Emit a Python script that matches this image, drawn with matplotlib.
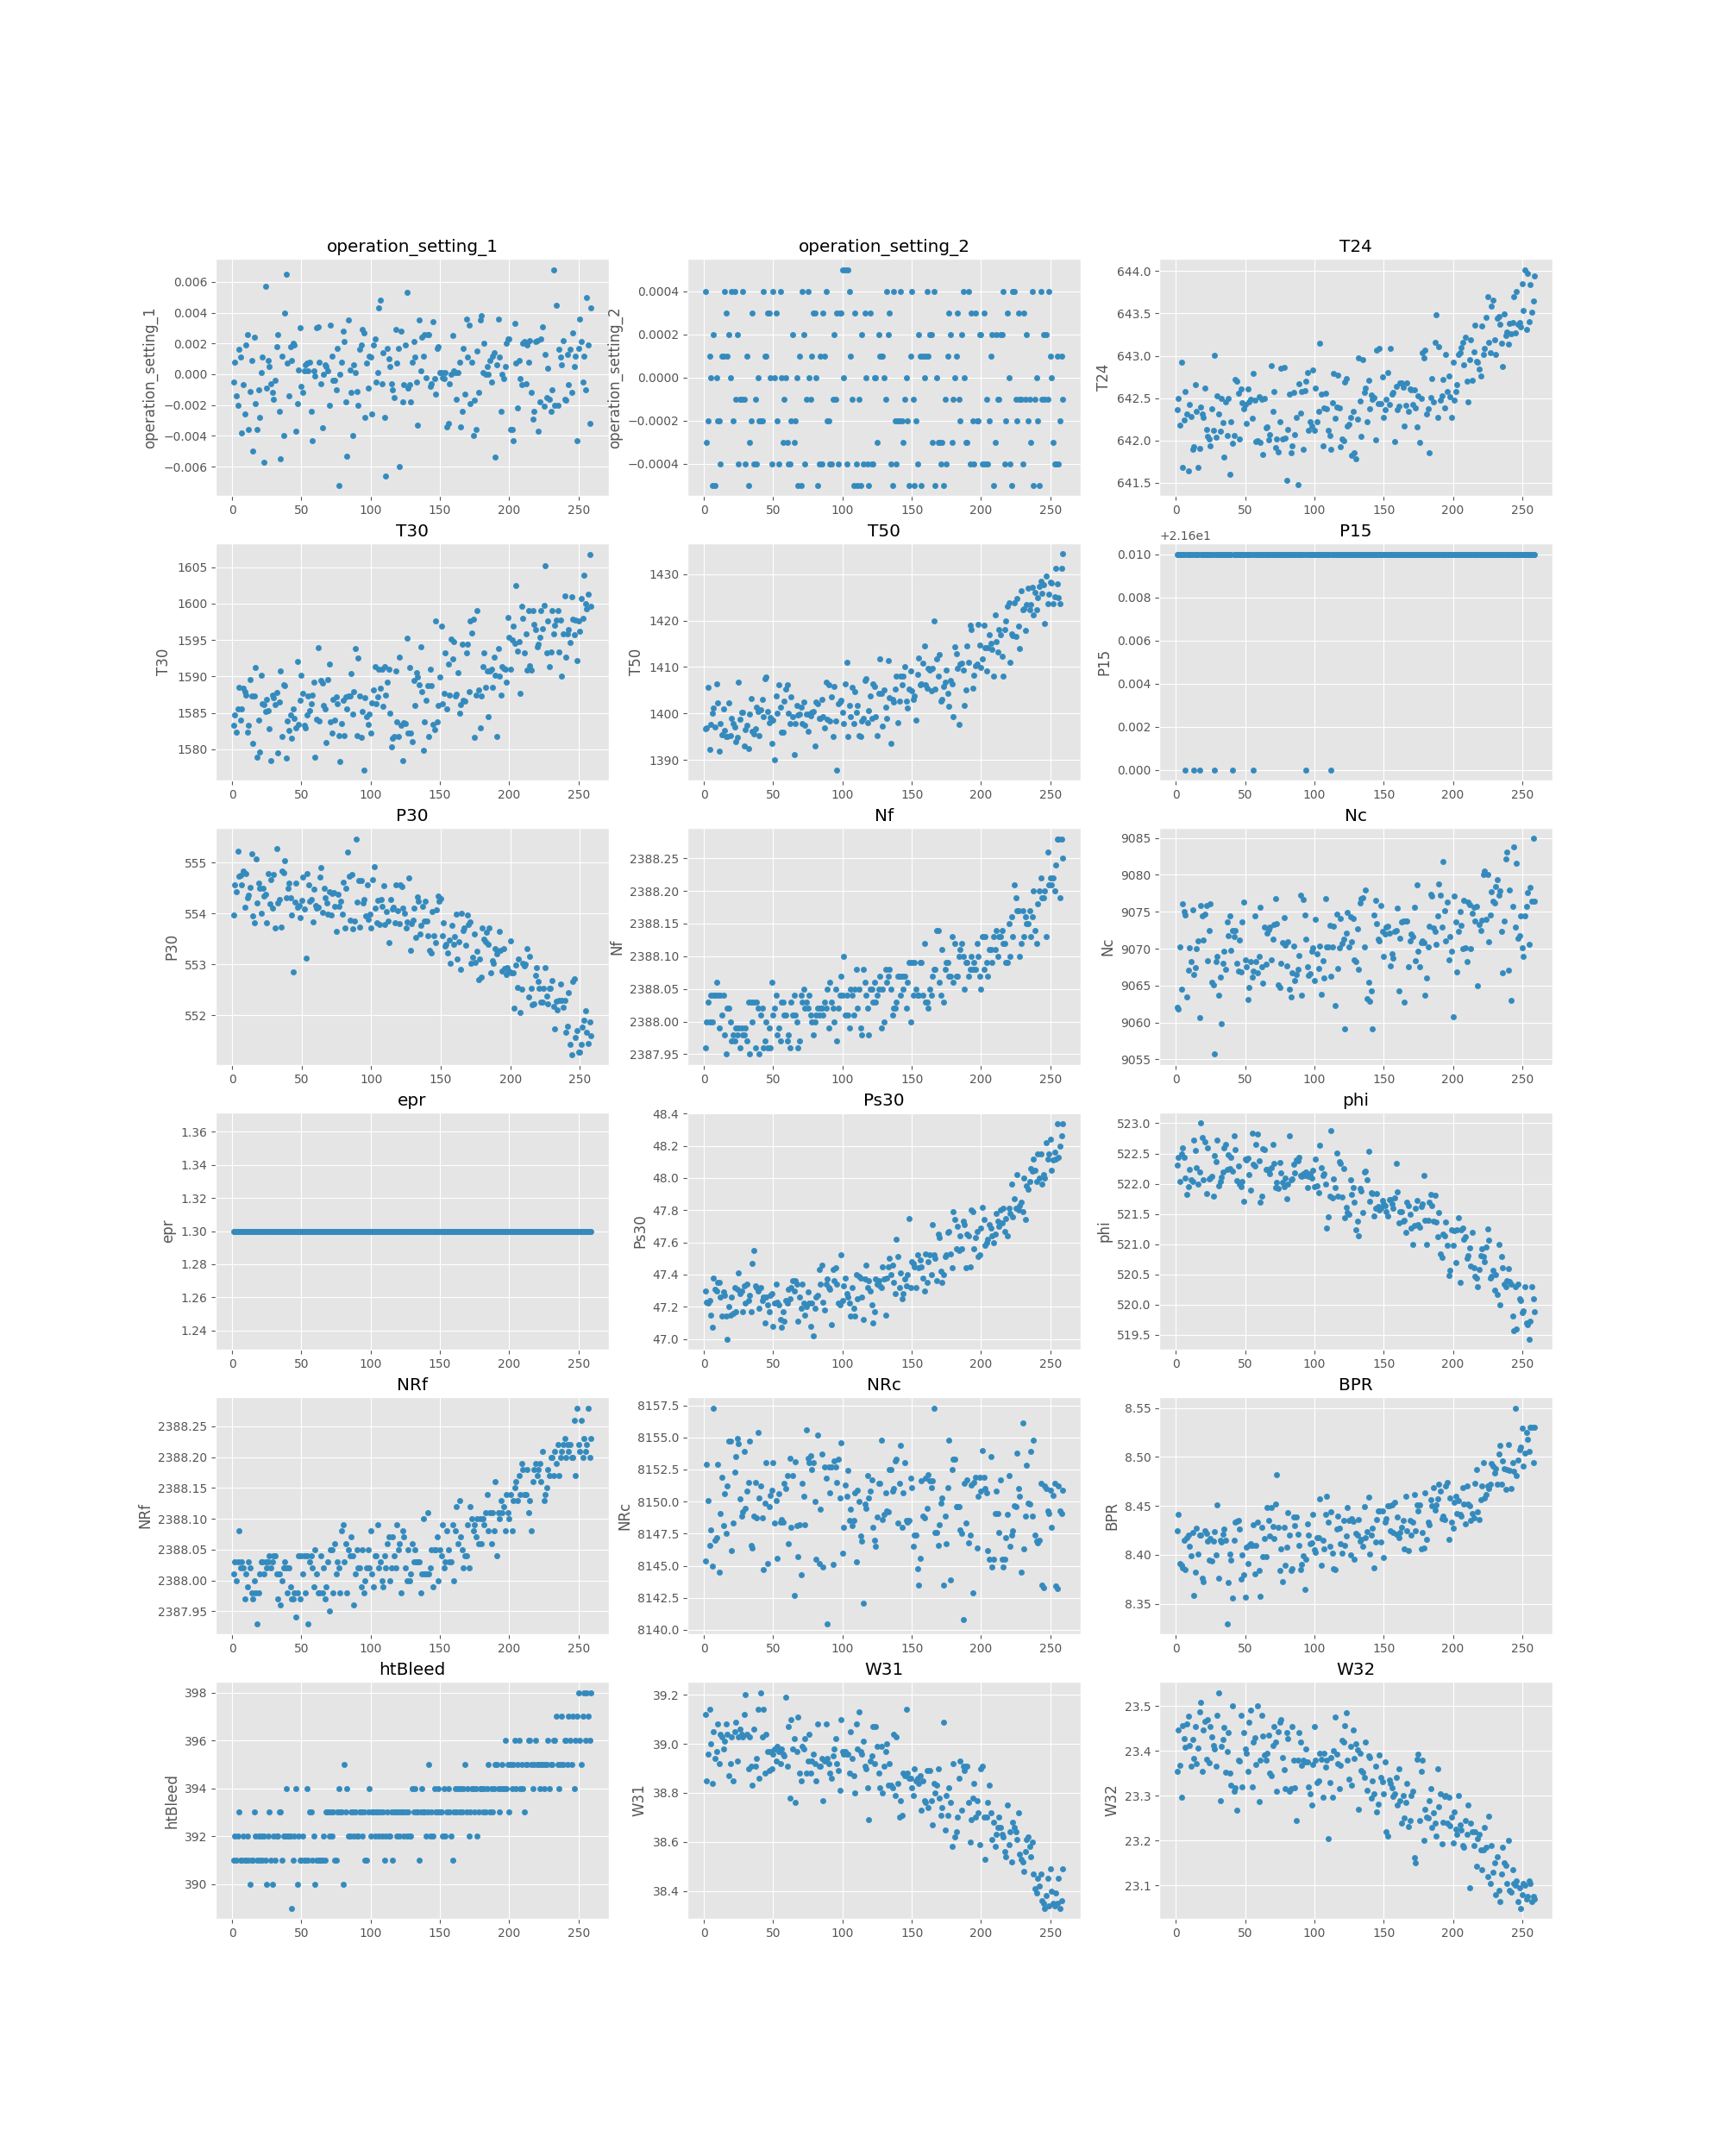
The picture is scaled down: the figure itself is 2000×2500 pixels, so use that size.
import matplotlib.pyplot as plt
import numpy as np

plt.style.use('ggplot')

# operation settings, read in units of 1e-4
op_setting_1_e4 = [
    -5, 8, -14, -20, 16, 11, -38, -7, -26, 19,
    26, -36, -11, 9, -50, 24, -19, -36, -10, -28,
    1, 11, -57, 57, -9, 9, 5, -6, -12, -16,
    -4, 18, 26, -24, -55, 12, -40, 40, 65, 7,
    -14, 18, 9, 20, 19, -37, -19, 3, 30, -8,
    -12, 2, 6, 7, 2, 8, -24, -43, 2, -1,
    30, 31, 8, -6, -35, 0, 6, 5, 2, -20,
    32, 12, -4, -4, -10, 17, -72, 0, 8, 28,
    21, -18, -53, 35, 3, -12, -40, 6, 1, -11,
    -20, 16, 19, 29, 27, -28, 7, -9, 12, 11,
    -26, 19, 23, -5, 1, 43, 48, -6, 14, -28,
    -66, 17, 10, 5, -6, -10, -15, 29, 7, 17,
    -60, 28, -18, -7, 19, 53, -9, -7, -18, 8,
    21, 11, -5, -33, 35, 2, 24, 12, 26, -2,
    26, 26, -8, -6, 34, -3, -13, 17, 18, 1,
    1, -2, -3, 1, -34, -32, -6, 0, 25, 2,
    1, -16, 1, 8, -34, -24, 17, -13, 36, 11,
    32, -19, 8, -40, -17, -36, 15, -12, 35, 38,
    1, 20, 0, 5, 0, 9, -5, 12, 14, -54,
    6, 36, 11, -24, 0, -3, 5, 20, 23, 23,
    -36, -36, -43, 33, 7, -22, 9, -3, -7, 20,
    21, -6, 19, 8, 22, -12, -29, -24, 21, 22,
    -37, -18, 23, 31, -21, 13, -15, 4, -16, -24,
    -10, 68, -20, 45, -20, 16, 11, 6, 22, -16,
    -17, 13, -7, 16, -12, 27, 5, 12, -43, 17,
    36, 21, -5, 12, -10, 50, 19, -32, 43]

op_setting_2_e4 = [
    4, -3, -2, 1, 0, -5, 2, -5, 0, -2,
    -2, -4, 1, 1, 4, 3, 1, 2, 0, 4,
    -2, 4, -1, 2, -4, -1, -1, 4, -1, -4,
    1, -5, -3, -2, 3, -4, -1, -4, 0, -2,
    -2, -2, 4, 1, 1, 3, 3, 0, -4, 4,
    0, 3, -2, -4, 4, 0, -3, -1, 0, -3,
    -4, -4, -2, 2, -3, -2, 0, -5, 1, -5,
    4, 2, -4, -1, 4, 0, -1, 1, 3, 3,
    0, -5, -4, 1, -4, 3, 1, 4, -2, -2,
    -4, -4, -1, 2, -1, 3, -4, 3, 3, 5,
    0, 5, -4, 5, 4, 1, -1, -5, 3, -4,
    -5, -1, -5, 2, -4, 3, 0, -4, -5, 3,
    -4, -4, 0, 0, -3, 2, 1, 1, 1, 0,
    -1, 4, 2, 3, -4, -5, 4, -2, -4, -2,
    -2, 4, -2, -3, -1, 0, -2, -5, 1, 4,
    -1, -5, -2, -4, 2, 1, -5, 1, 0, 1,
    4, 1, 2, 2, -3, 4, -5, 0, -3, -3,
    -4, -3, -5, -1, -4, 1, 3, 2, -3, -1,
    0, 1, 3, -1, -2, 2, 4, 0, -3, -3,
    4, -4, 3, -2, -4, 3, -2, -2, 2, 2,
    -4, 3, -4, -1, -4, -2, 1, 2, -5, -3,
    2, -1, -1, 2, 2, 4, -4, -2, 3, 0,
    -4, -5, 4, 4, -1, -2, 3, -1, -1, -4,
    3, -1, 2, -2, -1, -3, 4, -5, -1, 0,
    -2, -5, 4, -1, 2, -1, 2, -1, 4, 1,
    0, -3, -4, -4, 1, -4, -2, 1, -1]

t24 = [
    642.36, 642.50, 642.18, 642.92, 641.68, 642.24, 642.58, 642.31, 641.64, 642.42,
    642.28, 641.89, 641.92, 642.66, 642.34, 641.68, 641.90, 642.39, 642.31, 642.27,
    642.62, 642.13, 642.05, 642.02, 641.93, 642.37, 642.12, 643.01, 642.04, 642.53,
    642.31, 642.11, 642.50, 642.21, 641.80, 642.45, 642.06, 642.49, 641.60, 642.22,
    641.96, 642.06, 642.72, 642.70, 642.56, 642.02, 642.61, 642.44, 642.37, 642.42,
    642.20, 642.61, 642.45, 642.48, 642.26, 642.79, 642.47, 641.98, 642.00, 642.52,
    641.97, 642.48, 641.83, 642.49, 642.15, 642.16, 642.01, 642.07, 642.88, 642.34,
    642.58, 641.91, 642.02, 641.86, 642.22, 642.85, 642.02, 642.86, 642.03, 641.53,
    642.13, 642.55, 641.85, 641.93, 642.57, 642.07, 642.27, 641.47, 642.67, 642.32,
    642.58, 641.89, 642.59, 642.70, 642.80, 642.12, 642.22, 642.17, 642.83, 642.12,
    642.62, 642.22, 642.34, 643.15, 642.55, 641.93, 642.38, 642.56, 642.37, 642.12,
    642.06, 641.89, 642.44, 642.79, 642.26, 642.39, 642.77, 642.38, 641.92, 642.02,
    642.00, 642.69, 642.73, 642.17, 642.19, 642.27, 641.82, 642.34, 641.85, 641.78,
    642.25, 642.97, 642.46, 642.05, 642.95, 642.57, 642.62, 642.22, 642.71, 642.37,
    642.54, 642.48, 642.51, 642.01, 643.07, 642.43, 643.09, 642.43, 642.75, 642.27,
    642.36, 642.48, 642.80, 642.42, 643.09, 642.55, 642.57, 641.98, 642.64, 642.36,
    642.40, 642.68, 642.68, 642.63, 642.17, 642.41, 642.68, 642.34, 642.61, 642.60,
    642.42, 642.60, 642.38, 642.16, 642.53, 641.97, 642.49, 643.04, 642.97, 643.07,
    642.31, 642.37, 641.85, 642.51, 642.73, 642.45, 643.16, 643.48, 642.27, 643.11,
    642.47, 642.53, 642.72, 642.38, 643.02, 642.58, 642.76, 642.52, 642.27, 642.92,
    642.47, 642.58, 642.66, 643.02, 643.04, 643.10, 643.16, 642.89, 643.22, 642.70,
    642.45, 642.95, 643.19, 642.71, 643.05, 643.36, 642.93, 642.92, 642.84, 642.76,
    643.35, 643.02, 643.09, 643.45, 643.70, 643.16, 643.04, 643.59, 643.66, 643.19,
    643.02, 643.44, 643.46, 643.37, 643.15, 642.87, 643.49, 643.24, 643.28, 643.14,
    643.38, 643.26, 643.39, 643.70, 643.27, 643.76, 643.37, 643.39, 643.34, 643.85,
    643.54, 644.02, 643.31, 643.97, 643.40, 643.84, 643.52, 643.65, 643.94]

t30 = [
    1583.3, 1584.7, 1582.3, 1585.6, 1588.5, 1584.0, 1585.6, 1588.4, 1587.9, 1587.5,
    1582.3, 1583.3, 1589.6, 1587.3, 1580.8, 1587.3, 1591.2, 1578.9, 1584.0, 1579.6,
    1590.2, 1586.2, 1586.1, 1585.2, 1586.8, 1585.3, 1582.8, 1578.4, 1587.5, 1587.1,
    1586.1, 1587.8, 1579.5, 1586.5, 1590.7, 1581.8, 1588.9, 1588.7, 1578.8, 1583.9,
    1582.6, 1584.7, 1581.5, 1585.5, 1584.2, 1582.9, 1592.1, 1583.4, 1586.7, 1590.2,
    1587.7, 1583.3, 1583.0, 1584.7, 1587.3, 1585.3, 1586.2, 1587.5, 1589.2, 1578.9,
    1584.1, 1593.9, 1583.9, 1589.4, 1589.1, 1586.0, 1585.6, 1580.9, 1589.6, 1591.7,
    1583.8, 1582.2, 1586.8, 1584.0, 1587.2, 1586.2, 1581.9, 1578.3, 1583.5, 1586.7,
    1581.9, 1587.2, 1585.5, 1587.3, 1587.3, 1590.4, 1584.8, 1587.9, 1593.8, 1581.9,
    1592.5, 1587.3, 1581.6, 1585.2, 1577.2, 1587.1, 1584.5, 1583.4, 1584.8, 1582.2,
    1586.4, 1588.2, 1591.4, 1586.3, 1587.2, 1591.0, 1588.4, 1591.0, 1585.9, 1591.4,
    1587.4, 1589.2, 1591.0, 1585.0, 1580.3, 1581.5, 1581.8, 1590.7, 1583.8, 1581.8,
    1592.6, 1583.3, 1578.5, 1583.6, 1583.5, 1595.2, 1582.2, 1591.2, 1582.2, 1581.0,
    1589.4, 1586.0, 1590.5, 1589.9, 1588.9, 1594.1, 1587.9, 1579.9, 1583.8, 1586.7,
    1588.7, 1581.8, 1591.0, 1588.7, 1583.4, 1582.7, 1597.6, 1583.8, 1586.0, 1589.9,
    1596.9, 1586.2, 1587.7, 1593.3, 1585.5, 1591.7, 1587.5, 1595.1, 1592.4, 1594.8,
    1587.3, 1587.6, 1590.5, 1584.9, 1586.1, 1594.4, 1586.7, 1586.6, 1593.2, 1594.4,
    1587.9, 1597.6, 1596.0, 1597.9, 1581.6, 1587.4, 1599.1, 1588.2, 1583.0, 1587.3,
    1591.3, 1593.2, 1588.5, 1590.7, 1584.5, 1590.8, 1591.0, 1588.5, 1592.6, 1590.2,
    1581.8, 1593.8, 1590.1, 1587.4, 1591.4, 1591.1, 1591.0, 1589.2, 1598.1, 1595.4,
    1591.0, 1595.0, 1596.9, 1594.5, 1602.5, 1593.5, 1594.8, 1587.7, 1599.6, 1598.0,
    1593.3, 1595.9, 1590.9, 1599.1, 1591.5, 1590.9, 1599.0, 1597.1, 1596.4, 1594.1,
    1594.4, 1595.4, 1599.0, 1596.5, 1599.7, 1605.2, 1593.2, 1597.6, 1591.3, 1593.4,
    1599.0, 1595.9, 1597.0, 1597.7, 1599.1, 1593.4, 1597.7, 1590.0, 1595.8, 1601.1,
    1592.7, 1595.9, 1596.4, 1594.7, 1600.9, 1597.9, 1595.7, 1597.8, 1592.2, 1597.6,
    1596.2, 1600.7, 1598.0, 1603.9, 1600.0, 1599.3, 1601.3, 1606.8, 1599.6]

t50 = [
    1396.8, 1396.9, 1405.6, 1392.2, 1397.6, 1400.0, 1401.1, 1397.0, 1406.4, 1402.3,
    1391.8, 1397.8, 1395.5, 1401.0, 1396.3, 1395.1, 1395.0, 1402.2, 1395.3, 1398.9,
    1397.8, 1397.1, 1393.9, 1394.8, 1406.7, 1398.8, 1400.2, 1400.2, 1393.0, 1396.6,
    1397.5, 1392.4, 1399.8, 1403.3, 1396.2, 1395.6, 1396.7, 1401.4, 1400.4, 1395.2,
    1400.8, 1403.1, 1399.3, 1407.5, 1407.9, 1400.4, 1398.1, 1399.1, 1393.6, 1398.5,
    1390.1, 1403.7, 1400.0, 1406.2, 1401.3, 1395.9, 1395.9, 1402.7, 1405.3, 1406.2,
    1400.0, 1397.9, 1403.6, 1399.4, 1391.2, 1397.9, 1401.8, 1399.6, 1399.9, 1401.3,
    1397.8, 1402.4, 1397.5, 1399.8, 1396.2, 1399.9, 1399.5, 1400.2, 1400.5, 1393.0,
    1402.5, 1402.1, 1398.9, 1399.0, 1403.1, 1399.4, 1396.9, 1406.7, 1398.8, 1406.2,
    1398.4, 1403.5, 1395.0, 1405.9, 1398.3, 1387.9, 1402.1, 1402.4, 1402.8, 1400.2,
    1397.9, 1406.4, 1411.1, 1395.0, 1401.7, 1399.3, 1405.6, 1397.8, 1404.7, 1400.2,
    1401.8, 1395.3, 1395.0, 1398.3, 1398.9, 1407.1, 1407.5, 1398.1, 1400.6, 1403.7,
    1399.0, 1406.4, 1405.8, 1399.4, 1395.2, 1404.3, 1411.8, 1404.3, 1397.2, 1405.0,
    1401.3, 1399.0, 1411.3, 1403.4, 1393.6, 1403.0, 1402.4, 1405.3, 1408.1, 1398.0,
    1402.6, 1408.0, 1406.1, 1408.1, 1410.0, 1402.7, 1401.1, 1405.2, 1409.1, 1404.8,
    1403.1, 1403.8, 1398.6, 1408.4, 1411.9, 1406.1, 1406.4, 1410.9, 1414.5, 1406.2,
    1405.4, 1409.8, 1409.4, 1404.9, 1409.8, 1419.9, 1405.2, 1411.7, 1408.0, 1412.7,
    1402.6, 1403.0, 1405.8, 1406.8, 1409.4, 1404.3, 1401.6, 1407.2, 1406.3, 1399.4,
    1414.3, 1412.8, 1409.7, 1397.6, 1410.6, 1410.8, 1409.3, 1401.8, 1405.0, 1414.5,
    1411.1, 1418.9, 1418.1, 1405.4, 1408.2, 1410.3, 1410.7, 1419.2, 1414.8, 1409.9,
    1411.8, 1419.0, 1414.1, 1409.1, 1414.1, 1417.0, 1415.1, 1413.8, 1408.0, 1421.3,
    1415.4, 1413.3, 1418.0, 1416.9, 1412.3, 1408.1, 1418.0, 1419.9, 1423.1, 1423.9,
    1411.0, 1417.1, 1416.7, 1423.8, 1416.5, 1424.8, 1418.8, 1414.0, 1426.5, 1422.4,
    1422.6, 1417.9, 1423.5, 1427.0, 1422.3, 1423.4, 1427.2, 1421.3, 1426.0, 1422.4,
    1424.9, 1427.4, 1428.4, 1425.9, 1427.8, 1419.3, 1429.6, 1423.6, 1425.6, 1428.3,
    1428.0, 1423.6, 1425.2, 1431.3, 1427.9, 1425.0, 1423.6, 1431.2, 1434.3]

# P15 sits at 21.61 except a handful of cycles at 21.60
p15_low_cycles = [7, 13, 17, 28, 41, 56, 94, 112]
p15 = [21.60 if c in p15_low_cycles else 21.61 for c in range(1, 260)]

p30 = [
    553.97, 554.56, 554.42, 555.22, 554.74, 554.75, 554.57, 554.84, 554.13, 554.78,
    554.30, 554.36, 554.52, 555.17, 553.96, 553.81, 555.07, 554.20, 554.60, 554.50,
    554.00, 554.50, 554.35, 554.38, 553.81, 554.79, 554.19, 554.66, 554.10, 554.77,
    553.71, 555.28, 554.20, 554.27, 553.74, 554.84, 554.80, 555.03, 554.30, 554.50,
    554.60, 554.31, 553.97, 552.85, 554.22, 554.60, 554.12, 554.15, 553.91, 554.26,
    554.71, 554.08, 553.12, 554.79, 554.56, 554.24, 554.28, 553.84, 554.47, 554.15,
    554.10, 554.13, 554.72, 554.90, 554.02, 554.50, 554.30, 554.21, 553.98, 554.42,
    553.97, 554.40, 554.41, 554.14, 553.64, 554.37, 554.14, 554.24, 553.99, 554.62,
    553.71, 554.50, 555.20, 554.73, 553.87, 554.77, 553.70, 553.85, 555.47, 554.22,
    554.64, 553.74, 554.64, 554.20, 554.28, 553.96, 554.57, 553.88, 553.99, 553.71,
    554.66, 554.92, 554.11, 553.81, 554.25, 553.79, 554.27, 554.14, 554.55, 553.79,
    554.03, 553.85, 553.42, 554.28, 554.08, 554.12, 553.82, 554.57, 554.05, 553.80,
    554.57, 554.53, 554.10, 554.00, 553.71, 553.84, 554.69, 553.27, 553.80, 553.86,
    554.11, 553.52, 554.33, 554.24, 553.59, 553.76, 554.14, 553.85, 554.24, 553.85,
    553.57, 553.28, 553.22, 554.03, 553.56, 553.43, 554.07, 554.34, 554.24, 554.29,
    553.56, 553.81, 553.36, 553.40, 553.22, 553.48, 553.02, 553.76, 553.40, 553.55,
    553.98, 553.10, 553.45, 552.90, 554.01, 553.67, 553.72, 553.38, 553.97, 553.78,
    553.84, 553.02, 553.14, 553.59, 553.03, 553.26, 552.70, 553.10, 552.75, 553.71,
    553.50, 553.45, 553.63, 553.40, 553.71, 552.83, 553.07, 553.02, 553.31, 553.20,
    553.25, 553.64, 553.28, 552.87, 553.30, 552.91, 552.80, 552.93, 552.86, 553.46,
    552.84, 552.83, 552.14, 552.98, 552.54, 553.10, 552.05, 552.51, 553.02, 552.96,
    553.01, 553.30, 552.36, 553.15, 552.53, 552.21, 552.22, 552.78, 552.94, 552.66,
    552.53, 552.25, 552.25, 552.53, 552.93, 552.38, 552.22, 552.53, 552.53, 552.68,
    552.17, 551.73, 552.27, 552.11, 552.29, 552.61, 552.29, 552.15, 552.29, 551.67,
    551.78, 552.45, 551.43, 551.23, 552.66, 552.71, 551.56, 551.69, 551.27, 551.27,
    551.42, 551.77, 551.90, 552.09, 551.67, 551.44, 551.87, 551.60]

# Nf and NRf read as hundredths above 2388.00
nf_cents = [
    -4, 0, 3, 0, 4, 0, 4, 4, 6, 4,
    -1, 4, 1, 4, -2, -5, 2, 2, 0, -3,
    -2, -3, -1, -2, -1, -4, -1, -2, -2, -1,
    -3, 3, -5, 3, 0, 3, -4, 3, 2, -5,
    1, 2, -4, -3, 0, -4, -1, -4, 6, 1,
    2, 4, -2, -1, -3, 3, 3, 1, 1, -3,
    -2, -4, 3, 1, 4, 1, 0, -4, -3, 4,
    3, 5, 2, 3, 2, 4, 1, 0, -2, 0,
    1, 2, 1, 2, 2, 1, 3, 2, 5, -1,
    6, 3, 2, 0, 5, -3, 2, 4, 7, 4,
    10, 1, 4, 1, -1, 5, 4, 1, 5, 8,
    2, 5, -1, -2, 8, 6, 4, 2, -2, 5,
    5, 3, 6, 3, 4, 5, 7, -1, 5, 0,
    8, 6, 7, 8, 5, 1, 2, 2, 3, 7,
    7, 4, 7, 5, 7, 2, 6, 9, 0, 9,
    4, 9, 5, 4, 4, 9, 9, 4, 12, 3,
    3, 2, 5, 4, 7, 8, 8, 14, 14, 6,
    4, 11, 3, 8, 9, 9, 7, 7, 13, 6,
    12, 7, 7, 10, 11, 12, 10, 5, 9, 9,
    7, 8, 10, 8, 9, 8, 12, 10, 7, 5,
    13, 8, 13, 9, 7, 11, 11, 9, 13, 11,
    14, 10, 13, 13, 14, 12, 12, 9, 9, 15,
    10, 16, 13, 21, 19, 17, 17, 10, 12, 17,
    13, 16, 15, 15, 17, 13, 16, 20, 14, 12,
    18, 20, 22, 19, 19, 20, 13, 26, 21, 22,
    21, 22, 20, 24, 28, 28, 19, 28, 25]

nc = [
    9062.1, 9061.8, 9070.2, 9064.5, 9076.1, 9075.0, 9074.6, 9063.5, 9067.1, 9070.1,
    9068.2, 9075.3, 9066.5, 9067.4, 9070.0, 9071.1, 9060.7, 9075.9, 9074.4, 9071.2,
    9074.7, 9075.8, 9068.4, 9072.5, 9076.1, 9065.4, 9065.1, 9055.7, 9068.2, 9068.9,
    9063.7, 9066.1, 9059.8, 9068.0, 9069.7, 9067.2, 9073.6, 9071.8, 9074.5, 9069.8,
    9072.5, 9071.7, 9072.5, 9068.0, 9067.0, 9071.2, 9066.9, 9073.6, 9076.3, 9068.5,
    9067.6, 9063.1, 9064.8, 9068.3, 9066.1, 9067.0, 9074.5, 9068.3, 9066.7, 9069.0,
    9075.6, 9067.6, 9065.3, 9072.9, 9067.9, 9072.1, 9072.6, 9072.9, 9068.5, 9071.3,
    9073.3, 9076.8, 9073.4, 9065.1, 9064.8, 9068.0, 9070.8, 9074.2, 9070.5, 9067.7,
    9070.9, 9064.5, 9063.5, 9066.7, 9070.4, 9065.7, 9066.5, 9067.2, 9069.1, 9077.2,
    9063.7, 9076.7, 9074.6, 9071.3, 9067.5, 9066.4, 9066.6, 9069.6, 9070.1, 9065.7,
    9074.0, 9069.3, 9067.3, 9070.4, 9063.8, 9068.4, 9066.0, 9076.8, 9070.2, 9070.2,
    9073.2, 9066.3, 9070.3, 9073.0, 9062.3, 9074.7, 9067.3, 9070.1, 9074.1, 9070.7,
    9071.3, 9059.1, 9072.1, 9074.9, 9070.2, 9074.3, 9070.9, 9074.1, 9068.5, 9068.2,
    9072.7, 9067.2, 9076.2, 9076.8, 9076.9, 9070.2, 9078.0, 9063.2, 9065.5, 9062.9,
    9064.3, 9059.1, 9074.6, 9076.5, 9073.4, 9071.3, 9071.1, 9075.8, 9072.3, 9069.0,
    9072.0, 9072.9, 9073.0, 9072.1, 9067.7, 9069.3, 9068.7, 9072.3, 9072.5, 9075.5,
    9064.3, 9071.4, 9073.6, 9073.7, 9062.8, 9073.8, 9073.8, 9067.5, 9071.1, 9072.0,
    9071.7, 9075.6, 9068.4, 9078.7, 9069.6, 9067.5, 9070.8, 9071.1, 9070.8, 9063.7,
    9066.0, 9070.2, 9073.0, 9077.4, 9077.1, 9072.8, 9072.3, 9070.6, 9074.4, 9078.8,
    9077.3, 9072.9, 9081.8, 9075.2, 9071.1, 9076.3, 9068.5, 9071.7, 9069.7, 9060.8,
    9077.1, 9073.6, 9066.9, 9072.4, 9075.0, 9073.2, 9070.0, 9076.5, 9070.1, 9068.3,
    9076.3, 9076.0, 9070.0, 9074.8, 9075.6, 9073.7, 9075.7, 9065.0, 9073.3, 9072.5,
    9073.9, 9080.1, 9080.5, 9074.0, 9080.0, 9071.0, 9074.6, 9077.7, 9076.4, 9076.2,
    9078.4, 9079.4, 9077.3, 9077.8, 9072.3, 9066.7, 9073.8, 9082.2, 9083.1, 9067.1,
    9077.9, 9063.0, 9075.7, 9083.8, 9072.9, 9081.6, 9071.4, 9071.8, 9074.5, 9070.1,
    9069.0, 9074.4, 9075.7, 9077.6, 9070.6, 9078.3, 9076.4, 9084.9, 9076.4]

epr = [1.30] * 259

ps30 = [
    47.30, 47.23, 47.22, 47.24, 47.15, 47.07, 47.38, 47.31, 47.30, 47.35,
    47.35, 47.26, 47.14, 47.29, 47.27, 47.14, 47.00, 47.20, 47.15, 47.26,
    47.16, 47.32, 47.17, 47.31, 47.41, 47.28, 47.30, 47.17, 47.33, 47.22,
    47.34, 47.24, 47.27, 47.17, 47.47, 47.55, 47.33, 47.32, 47.30, 47.19,
    47.32, 47.24, 47.26, 47.10, 47.26, 47.21, 47.17, 47.27, 47.28, 47.08,
    47.22, 47.34, 47.23, 47.21, 47.12, 47.07, 47.17, 47.11, 47.24, 47.22,
    47.31, 47.25, 47.32, 47.36, 47.30, 47.36, 47.34, 47.11, 47.26, 47.19,
    47.34, 47.22, 47.15, 47.20, 47.29, 47.22, 47.08, 47.22, 47.02, 47.19,
    47.26, 47.27, 47.43, 47.34, 47.46, 47.23, 47.18, 47.34, 47.37, 47.32,
    47.31, 47.09, 47.43, 47.36, 47.44, 47.34, 47.22, 47.21, 47.52, 47.24,
    47.33, 47.38, 47.28, 47.26, 47.22, 47.14, 47.32, 47.19, 47.14, 47.40,
    47.25, 47.39, 47.38, 47.26, 47.12, 47.37, 47.46, 47.32, 47.36, 47.30,
    47.21, 47.10, 47.17, 47.37, 47.34, 47.36, 47.33, 47.32, 47.45, 47.37,
    47.15, 47.38, 47.45, 47.50, 47.40, 47.46, 47.35, 47.28, 47.62, 47.51,
    47.32, 47.41, 47.25, 47.28, 47.37, 47.33, 47.40, 47.75, 47.32, 47.48,
    47.47, 47.45, 47.32, 47.52, 47.44, 47.49, 47.45, 47.38, 47.30, 47.53,
    47.35, 47.48, 47.52, 47.40, 47.71, 47.52, 47.50, 47.36, 47.65, 47.63,
    47.42, 47.35, 47.40, 47.51, 47.52, 47.66, 47.67, 47.53, 47.44, 47.79,
    47.74, 47.56, 47.70, 47.55, 47.64, 47.56, 47.73, 47.71, 47.44, 47.65,
    47.64, 47.45, 47.80, 47.79, 47.56, 47.63, 47.67, 47.51, 47.52, 47.69,
    47.82, 47.74, 47.58, 47.60, 47.62, 47.71, 47.69, 47.64, 47.60, 47.65,
    47.78, 47.73, 47.70, 47.80, 47.72, 47.81, 47.67, 47.75, 47.64, 47.81,
    47.78, 47.96, 47.76, 47.87, 47.81, 48.02, 47.80, 47.83, 47.85, 47.79,
    48.00, 47.74, 47.95, 47.93, 47.98, 48.06, 48.04, 48.12, 48.05, 47.98,
    48.15, 48.00, 48.15, 47.96, 48.02, 48.00, 48.22, 48.12, 48.15, 48.24,
    48.05, 48.11, 48.16, 48.12, 48.34, 48.13, 48.20, 48.26, 48.34]

phi = [
    522.31, 522.43, 522.04, 522.49, 522.59, 522.43, 522.10, 521.82, 521.95, 522.23,
    522.07, 522.04, 522.72, 522.55, 522.27, 522.00, 522.20, 523.00, 522.77, 522.06,
    522.70, 521.83, 522.59, 522.08, 522.09, 522.12, 521.80, 522.46, 522.36, 522.72,
    521.97, 522.03, 522.11, 522.19, 522.60, 522.65, 522.24, 522.48, 522.25, 522.43,
    522.21, 522.79, 522.56, 522.05, 522.30, 522.00, 521.95, 522.03, 521.71, 522.41,
    522.40, 522.42, 522.15, 521.89, 522.84, 522.32, 522.29, 522.65, 522.82, 522.38,
    521.70, 521.80, 522.58, 522.56, 522.23, 522.24, 522.22, 522.17, 522.26, 522.65,
    522.34, 521.93, 522.02, 521.92, 522.35, 522.18, 522.02, 521.95, 522.10, 521.75,
    522.00, 522.79, 522.06, 522.08, 522.32, 522.18, 522.40, 522.38, 522.44, 522.14,
    522.12, 522.16, 522.13, 522.20, 521.93, 522.12, 522.16, 522.10, 522.22, 521.95,
    522.41, 521.97, 521.85, 522.63, 522.27, 522.13, 522.17, 522.00, 521.26, 521.45,
    521.80, 522.88, 521.76, 522.08, 521.94, 522.51, 521.79, 522.36, 522.34, 521.78,
    522.25, 521.44, 521.61, 521.52, 521.49, 522.06, 521.82, 521.94, 521.70, 521.24,
    521.38, 521.14, 521.92, 521.88, 521.52, 522.19, 522.21, 522.06, 522.53, 521.71,
    521.85, 521.84, 521.46, 521.60, 521.84, 521.62, 521.56, 521.59, 521.72, 521.66,
    521.63, 521.53, 521.47, 521.73, 521.74, 521.67, 521.59, 521.76, 522.33, 521.86,
    521.35, 521.53, 521.53, 521.38, 521.40, 521.20, 521.69, 521.63, 521.49, 521.27,
    521.00, 521.31, 521.59, 521.72, 521.32, 521.28, 521.62, 521.66, 522.13, 521.39,
    520.99, 521.40, 521.70, 521.82, 521.64, 521.38, 521.81, 521.37, 521.12, 521.52,
    520.84, 520.78, 521.17, 521.14, 521.36, 520.98, 520.48, 520.56, 521.23, 520.98,
    521.22, 520.70, 521.23, 521.43, 520.36, 521.24, 521.27, 521.08, 521.12, 520.77,
    520.81, 520.93, 520.64, 521.19, 520.61, 520.47, 520.44, 520.29, 520.58, 520.81,
    520.92, 520.80, 520.71, 520.95, 521.25, 521.06, 520.44, 520.46, 520.57, 520.24,
    520.50, 520.17, 521.00, 520.00, 520.80, 520.61, 520.34, 520.30, 520.40, 520.60,
    520.38, 520.34, 519.81, 519.57, 520.30, 519.60, 520.33, 520.09, 520.06, 519.87,
    519.89, 520.29, 519.70, 519.67, 519.43, 519.72, 520.30, 520.10, 519.88]

nrf_cents = [
    1, 3, 0, 3, 8, 2, 3, 2, -3, 1,
    -1, 3, 2, -2, -3, 0, -2, -7, -2, 1,
    3, 3, 1, 3, 2, 3, 4, 2, 3, 4,
    4, 1, -3, 1, -4, 0, 2, 3, 2, -2,
    2, -1, -3, -3, -2, -6, -2, 4, -3, 4,
    1, 4, -2, 4, -7, 3, 4, 2, -1, 5,
    1, -2, -2, 4, -2, 2, -3, -1, 3, -5,
    5, 5, -2, 6, 1, 3, 2, -2, 8, 9,
    3, 6, -2, 5, 4, 7, 4, -4, 1, 5,
    2, 2, -1, 5, -2, 0, 2, 5, 2, 8,
    1, -1, 4, 4, 9, 2, 3, 0, -1, 4,
    2, 6, 7, 0, 2, 7, 4, 2, 9, 5,
    6, -2, 8, 7, 2, 0, 5, 0, 1, 6,
    3, 5, 3, 3, 3, -2, 1, 10, 1, 1,
    11, 1, 2, 5, -1, 5, 5, 7, 0, 5,
    4, 9, 2, 3, 8, 5, 3, 3, 9, 0,
    8, 12, 6, 13, 7, 5, 2, 4, 4, 9,
    2, 12, 10, 8, 9, 7, 10, 6, 10, 6,
    10, 9, 11, 14, 8, 11, 6, 11, 8, 16,
    4, 11, 10, 13, 11, 12, 8, 14, 11, 10,
    14, 8, 13, 15, 16, 13, 17, 14, 19, 18,
    14, 14, 18, 11, 13, 8, 16, 18, 19, 17,
    18, 19, 16, 21, 13, 14, 15, 18, 17, 20,
    20, 17, 21, 19, 22, 17, 20, 21, 22, 23,
    20, 22, 21, 22, 20, 20, 26, 17, 28, 22,
    21, 26, 20, 23, 21, 22, 28, 20, 23]

nrc = [
    8145.4, 8152.9, 8150.1, 8146.6, 8147.8, 8145.0, 8157.3, 8147.0, 8147.2, 8152.9,
    8144.5, 8149.1, 8151.9, 8148.1, 8150.6, 8147.5, 8151.2, 8154.7, 8154.7, 8146.2,
    8148.3, 8152.3, 8153.5, 8154.9, 8154.5, 8150.2, 8148.9, 8149.2, 8153.9, 8149.5,
    8150.8, 8151.5, 8154.7, 8146.6, 8146.4, 8148.9, 8151.5, 8148.7, 8155.4, 8150.3,
    8151.2, 8148.7, 8144.7, 8149.9, 8153.0, 8145.2, 8149.6, 8150.5, 8150.9, 8153.0,
    8148.3, 8150.1, 8145.6, 8150.6, 8148.4, 8148.6, 8148.4, 8151.4, 8151.0, 8152.0,
    8146.7, 8153.4, 8148.0, 8152.0, 8142.7, 8153.1, 8148.1, 8145.7, 8148.2, 8144.3,
    8151.4, 8150.4, 8148.2, 8155.6, 8153.4, 8153.0, 8153.6, 8152.5, 8153.0, 8150.0,
    8145.5, 8155.2, 8145.2, 8149.4, 8153.7, 8144.9, 8152.7, 8151.8, 8140.5, 8152.7,
    8150.7, 8152.7, 8145.1, 8153.2, 8152.7, 8151.5, 8153.3, 8150.3, 8154.6, 8146.0,
    8148.0, 8151.3, 8150.4, 8152.4, 8148.5, 8149.4, 8148.1, 8148.5, 8150.7, 8145.3,
    8150.9, 8150.0, 8147.3, 8146.9, 8142.1, 8149.8, 8149.5, 8152.0, 8150.3, 8150.8,
    8151.7, 8148.0, 8147.0, 8146.5, 8148.8, 8151.4, 8151.4, 8154.8, 8148.6, 8149.0,
    8150.7, 8149.3, 8149.2, 8152.5, 8152.5, 8150.8, 8151.0, 8153.2, 8153.3, 8148.3,
    8151.4, 8154.4, 8148.0, 8150.7, 8153.0, 8148.5, 8148.4, 8148.5, 8151.8, 8151.1,
    8146.5, 8147.4, 8147.4, 8144.8, 8143.5, 8145.6, 8151.6, 8148.9, 8148.7, 8151.8,
    8149.5, 8152.1, 8151.6, 8151.1, 8151.6, 8157.3, 8147.6, 8147.6, 8146.6, 8148.2,
    8149.9, 8150.3, 8143.5, 8148.9, 8146.7, 8151.1, 8154.8, 8143.9, 8152.5, 8153.3,
    8153.3, 8149.6, 8149.6, 8149.6, 8147.8, 8147.5, 8140.8, 8151.4, 8148.3, 8151.7,
    8146.8, 8147.4, 8151.3, 8142.9, 8151.5, 8151.9, 8146.4, 8150.4, 8151.9, 8150.8,
    8154.0, 8151.9, 8151.0, 8150.7, 8146.2, 8145.5, 8153.5, 8144.9, 8145.5, 8149.1,
    8150.8, 8149.1, 8147.6, 8151.7, 8145.5, 8144.9, 8145.5, 8147.2, 8149.0, 8152.0,
    8146.5, 8147.4, 8147.7, 8149.7, 8149.6, 8153.8, 8151.0, 8150.4, 8144.5, 8156.1,
    8146.3, 8148.9, 8152.8, 8149.9, 8149.8, 8153.9, 8148.9, 8154.8, 8147.4, 8146.9,
    8146.8, 8147.0, 8151.4, 8143.5, 8143.3, 8151.2, 8151.0, 8149.3, 8149.1, 8150.9,
    8148.0, 8150.5, 8151.4, 8143.4, 8143.2, 8151.2, 8149.3, 8149.1, 8150.9]

bpr = [
    8.425, 8.441, 8.391, 8.389, 8.387, 8.415, 8.385, 8.418, 8.420, 8.409,
    8.399, 8.423, 8.359, 8.382, 8.427, 8.401, 8.420, 8.420, 8.376, 8.373,
    8.425, 8.422, 8.414, 8.395, 8.417, 8.394, 8.414, 8.424, 8.400, 8.451,
    8.376, 8.415, 8.413, 8.421, 8.426, 8.415, 8.330, 8.372, 8.401, 8.395,
    8.356, 8.415, 8.433, 8.434, 8.435, 8.426, 8.375, 8.400, 8.380, 8.357,
    8.408, 8.391, 8.410, 8.411, 8.410, 8.431, 8.381, 8.410, 8.433, 8.384,
    8.358, 8.428, 8.398, 8.417, 8.398, 8.448, 8.435, 8.419, 8.448, 8.429,
    8.417, 8.452, 8.482, 8.428, 8.384, 8.406, 8.373, 8.428, 8.389, 8.408,
    8.443, 8.420, 8.384, 8.386, 8.439, 8.430, 8.439, 8.421, 8.410, 8.385,
    8.390, 8.399, 8.365, 8.396, 8.432, 8.420, 8.411, 8.412, 8.441, 8.405,
    8.403, 8.418, 8.418, 8.457, 8.389, 8.415, 8.406, 8.441, 8.460, 8.433,
    8.409, 8.444, 8.402, 8.386, 8.385, 8.426, 8.440, 8.427, 8.411, 8.402,
    8.435, 8.410, 8.419, 8.448, 8.435, 8.400, 8.437, 8.434, 8.396, 8.422,
    8.420, 8.436, 8.414, 8.416, 8.409, 8.449, 8.418, 8.424, 8.459, 8.401,
    8.420, 8.427, 8.387, 8.413, 8.436, 8.445, 8.445, 8.413, 8.445, 8.397,
    8.433, 8.437, 8.450, 8.450, 8.425, 8.451, 8.423, 8.454, 8.421, 8.439,
    8.418, 8.423, 8.428, 8.435, 8.406, 8.460, 8.425, 8.404, 8.435, 8.420,
    8.433, 8.462, 8.425, 8.451, 8.445, 8.451, 8.406, 8.423, 8.407, 8.463,
    8.416, 8.433, 8.431, 8.456, 8.450, 8.469, 8.446, 8.451, 8.457, 8.472,
    8.465, 8.437, 8.440, 8.436, 8.470, 8.474, 8.416, 8.458, 8.433, 8.427,
    8.454, 8.460, 8.442, 8.455, 8.441, 8.440, 8.469, 8.452, 8.432, 8.470,
    8.452, 8.450, 8.435, 8.442, 8.438, 8.473, 8.487, 8.444, 8.436, 8.456,
    8.470, 8.494, 8.458, 8.462, 8.470, 8.468, 8.472, 8.493, 8.491, 8.484,
    8.488, 8.472, 8.503, 8.512, 8.472, 8.496, 8.488, 8.467, 8.487, 8.513,
    8.486, 8.468, 8.494, 8.485, 8.550, 8.481, 8.497, 8.507, 8.510, 8.529,
    8.491, 8.504, 8.525, 8.518, 8.506, 8.530, 8.530, 8.494, 8.530]

ht_bleed = [
    391, 392, 391, 392, 393, 391, 391, 392, 391, 391,
    392, 391, 390, 391, 391, 393, 392, 391, 392, 391,
    392, 391, 392, 391, 390, 392, 393, 391, 390, 392,
    391, 392, 392, 393, 393, 391, 392, 392, 394, 392,
    392, 392, 389, 391, 392, 394, 390, 392, 391, 391,
    392, 391, 391, 394, 391, 393, 393, 391, 392, 390,
    391, 391, 391, 391, 391, 392, 391, 393, 393, 392,
    393, 392, 393, 391, 391, 393, 394, 393, 393, 390,
    395, 393, 394, 392, 392, 393, 393, 392, 393, 392,
    392, 393, 393, 392, 393, 391, 391, 393, 394, 392,
    393, 393, 392, 393, 393, 392, 393, 392, 393, 391,
    392, 393, 392, 392, 393, 391, 393, 393, 392, 393,
    392, 393, 393, 392, 393, 392, 393, 392, 392, 394,
    393, 394, 393, 393, 391, 393, 394, 393, 393, 392,
    393, 395, 392, 393, 392, 394, 393, 393, 394, 393,
    393, 392, 394, 392, 393, 394, 393, 392, 391, 393,
    394, 393, 394, 393, 394, 393, 394, 395, 393, 394,
    392, 393, 394, 394, 393, 394, 392, 393, 394, 394,
    393, 394, 393, 394, 395, 393, 394, 393, 394, 395,
    395, 394, 393, 394, 395, 394, 396, 394, 395, 393,
    395, 394, 395, 396, 394, 395, 396, 394, 395, 394,
    393, 395, 395, 396, 396, 395, 394, 395, 396, 395,
    395, 394, 395, 395, 394, 395, 395, 396, 394, 395,
    395, 396, 396, 397, 395, 394, 395, 397, 395, 396,
    396, 395, 397, 396, 395, 397, 394, 396, 397, 398,
    396, 395, 397, 398, 396, 398, 397, 396, 398]

w31 = [
    39.12, 38.85, 38.96, 39.14, 39.00, 38.84, 39.05, 38.94, 38.97, 39.08,
    38.92, 39.04, 39.03, 38.98, 39.01, 39.08, 39.04, 38.87, 38.92, 39.03,
    38.85, 39.05, 39.09, 38.93, 39.03, 39.06, 39.04, 39.03, 39.12, 39.20,
    39.04, 38.90, 39.03, 38.91, 38.83, 39.06, 38.91, 38.94, 39.14, 38.86,
    39.21, 39.03, 39.14, 38.88, 39.04, 38.97, 38.89, 38.97, 38.90, 38.96,
    38.98, 38.93, 38.99, 38.97, 38.92, 38.98, 38.96, 38.95, 39.19, 38.91,
    39.07, 38.78, 39.10, 38.98, 39.02, 38.76, 38.97, 39.11, 38.88, 38.85,
    38.99, 38.98, 39.02, 38.88, 38.93, 39.04, 38.88, 38.93, 38.96, 38.92,
    38.85, 39.08, 38.91, 38.91, 38.94, 38.77, 38.93, 39.08, 38.94, 38.92,
    38.88, 38.86, 38.95, 38.98, 39.02, 38.92, 38.89, 38.81, 39.10, 38.97,
    38.96, 38.97, 38.96, 38.96, 38.88, 39.05, 38.94, 38.87, 38.80, 39.08,
    38.98, 39.13, 38.97, 38.96, 39.01, 38.91, 38.90, 38.82, 38.69, 38.93,
    38.95, 39.07, 38.92, 39.07, 38.99, 38.88, 38.82, 38.99, 38.80, 38.91,
    38.97, 39.00, 38.83, 38.92, 38.83, 38.82, 39.04, 38.79, 39.03, 38.84,
    38.70, 38.77, 38.71, 38.88, 38.87, 39.14, 38.88, 38.86, 38.86, 38.82,
    38.79, 38.90, 38.85, 38.86, 38.84, 38.87, 38.73, 38.85, 38.77, 38.76,
    38.89, 38.74, 38.89, 38.77, 38.67, 38.84, 38.80, 38.83, 38.90, 38.78,
    38.71, 38.74, 39.09, 38.65, 38.79, 38.71, 38.82, 38.76, 38.58, 38.92,
    38.62, 38.64, 38.70, 38.86, 38.93, 38.73, 38.91, 38.89, 38.91, 38.91,
    38.76, 38.60, 38.69, 38.78, 38.84, 38.70, 38.77, 38.72, 38.59, 38.90,
    38.91, 38.70, 38.53, 38.70, 38.76, 38.83, 38.72, 38.61, 38.68, 38.58,
    38.63, 38.66, 38.70, 38.66, 38.63, 38.62, 38.56, 38.54, 38.75, 38.59,
    38.64, 38.52, 38.68, 38.66, 38.64, 38.61, 38.72, 38.55, 38.53, 38.52,
    38.48, 38.56, 38.61, 38.62, 38.58, 38.54, 38.60, 38.47, 38.41, 38.39,
    38.45, 38.42, 38.47, 38.36, 38.35, 38.33, 38.38, 38.45, 38.34, 38.49,
    38.40, 38.35, 38.34, 38.39, 38.35, 38.45, 38.33, 38.36, 38.49]

w32 = [
    23.354, 23.446, 23.368, 23.297, 23.456, 23.428, 23.409, 23.460, 23.477, 23.411,
    23.366, 23.425, 23.383, 23.455, 23.372, 23.406, 23.486, 23.507, 23.354, 23.447,
    23.466, 23.382, 23.469, 23.373, 23.455, 23.431, 23.412, 23.405, 23.365, 23.480,
    23.530, 23.290, 23.410, 23.425, 23.452, 23.353, 23.398, 23.440, 23.350, 23.323,
    23.500, 23.310, 23.318, 23.268, 23.380, 23.378, 23.479, 23.320, 23.440, 23.405,
    23.395, 23.355, 23.464, 23.490, 23.320, 23.420, 23.430, 23.370, 23.500, 23.287,
    23.380, 23.480, 23.433, 23.390, 23.380, 23.395, 23.435, 23.351, 23.345, 23.412,
    23.455, 23.420, 23.310, 23.442, 23.463, 23.470, 23.385, 23.358, 23.316, 23.440,
    23.428, 23.310, 23.316, 23.455, 23.380, 23.318, 23.244, 23.380, 23.440, 23.420,
    23.367, 23.380, 23.375, 23.404, 23.376, 23.320, 23.304, 23.280, 23.370, 23.455,
    23.380, 23.330, 23.333, 23.395, 23.382, 23.297, 23.395, 23.363, 23.380, 23.205,
    23.330, 23.385, 23.296, 23.400, 23.475, 23.392, 23.372, 23.316, 23.367, 23.424,
    23.420, 23.457, 23.484, 23.380, 23.337, 23.410, 23.324, 23.446, 23.383, 23.416,
    23.402, 23.270, 23.395, 23.356, 23.352, 23.340, 23.420, 23.312, 23.388, 23.385,
    23.295, 23.333, 23.305, 23.365, 23.265, 23.282, 23.390, 23.340, 23.332, 23.305,
    23.375, 23.220, 23.210, 23.335, 23.327, 23.318, 23.298, 23.305, 23.340, 23.280,
    23.360, 23.290, 23.240, 23.300, 23.250, 23.285, 23.328, 23.232, 23.245, 23.300,
    23.310, 23.163, 23.150, 23.382, 23.393, 23.245, 23.355, 23.380, 23.200, 23.270,
    23.253, 23.251, 23.290, 23.315, 23.230, 23.262, 23.240, 23.210, 23.360, 23.275,
    23.305, 23.193, 23.241, 23.299, 23.300, 23.240, 23.296, 23.234, 23.253, 23.195,
    23.265, 23.226, 23.215, 23.300, 23.236, 23.223, 23.190, 23.185, 23.245, 23.215,
    23.280, 23.095, 23.240, 23.220, 23.190, 23.220, 23.143, 23.205, 23.215, 23.180,
    23.135, 23.180, 23.230, 23.185, 23.120, 23.255, 23.105, 23.190, 23.130, 23.150,
    23.080, 23.165, 23.090, 23.065, 23.125, 23.185, 23.150, 23.145, 23.105, 23.200,
    23.090, 23.085, 23.135, 23.105, 23.100, 23.110, 23.065, 23.095, 23.050, 23.080,
    23.105, 23.100, 23.070, 23.075, 23.110, 23.105, 23.065, 23.075, 23.070]

series = [
    ('operation_setting_1', np.array(op_setting_1_e4) * 1e-4),
    ('operation_setting_2', np.array(op_setting_2_e4) * 1e-4),
    ('T24', t24),
    ('T30', t30),
    ('T50', t50),
    ('P15', p15),
    ('P30', p30),
    ('Nf', 2388 + np.array(nf_cents) / 100),
    ('Nc', nc),
    ('epr', epr),
    ('Ps30', ps30),
    ('phi', phi),
    ('NRf', 2388 + np.array(nrf_cents) / 100),
    ('NRc', nrc),
    ('BPR', bpr),
    ('htBleed', ht_bleed),
    ('W31', w31),
    ('W32', w32),
]

fig, axes = plt.subplots(6, 3, figsize=(20, 25))

for ax, (name, vals) in zip(axes.flat, series):
    cycles = np.arange(1, len(vals) + 1)
    ax.scatter(cycles, vals, s=20, color='#348ABD')
    ax.set_title(name)
    ax.set_ylabel(name)

fig.savefig('out.png', dpi=100)
